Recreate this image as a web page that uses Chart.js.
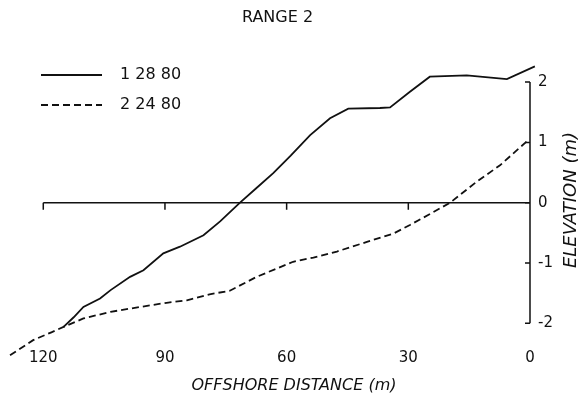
<!DOCTYPE html>
<html>
<head>
<meta charset="utf-8">
<script src="https://cdn.jsdelivr.net/npm/chart.js@4.4.1/dist/chart.umd.min.js"></script>
<style>
    html, body { margin: 0; padding: 0; background: #ffffff; }
    canvas { display: block; }
</style>
</head>
<body>
<canvas id="profile-chart" width="578" height="393"></canvas>
<script>
// profile 1 (1 28 80), offshore distance (m) vs elevation (m)
const profile1Dist = [115, 112.5, 110.1, 106, 103.4, 98.6, 95.3, 90.4, 86.3, 80.5, 76.4, 71.5, 67.5, 63.3, 59, 54.2, 49.3, 44.8, 37, 34.5, 29.6, 24.7, 15.6, 5.7, -1.2];
const profile1Elev = [-2.06, -1.90, -1.73, -1.59, -1.45, -1.23, -1.12, -0.84, -0.73, -0.54, -0.31, 0, 0.24, 0.49, 0.78, 1.12, 1.40, 1.56, 1.57, 1.58, 1.84, 2.09, 2.11, 2.05, 2.26];

// profile 2 (2 24 80)
const profile2Dist = [128.2, 122.5, 118, 115, 110.1, 103.4, 96.2, 89.6, 84.6, 79, 74, 67.4, 58.4, 53.4, 47.6, 40.2, 33.6, 29.6, 25, 19.7, 13.1, 7.4, 0.4];
const profile2Elev = [-2.53, -2.28, -2.15, -2.06, -1.92, -1.81, -1.73, -1.66, -1.62, -1.52, -1.46, -1.23, -0.98, -0.91, -0.81, -0.65, -0.51, -0.37, -0.20, 0, 0.35, 0.62, 1.04];

const seriesLabels = ['1 28 80', '2 24 80'];
const xTickValues = [120, 90, 60, 30, 0];
const yTickValues = [-2, -1, 0, 1, 2];

const FONT = "'DejaVu Sans', 'Liberation Sans', sans-serif";
const INK = '#111111';

const toPoints = (xs, ys) => xs.map((x, i) => ({ x: x, y: ys[i] }));

// zero line, y axis at distance 0, legend and axis titles
const profileDecor = {
    id: 'profileDecor',
    beforeDatasetsDraw(chart) {
        const ctx = chart.ctx;
        const xs = chart.scales.x;
        const ys = chart.scales.y;
        const y0 = ys.getPixelForValue(0);
        const x0 = xs.getPixelForValue(0);

        ctx.save();
        ctx.strokeStyle = INK;
        ctx.lineWidth = 1.5;
        ctx.beginPath();
        ctx.moveTo(xs.getPixelForValue(120), y0);
        ctx.lineTo(x0, y0);
        xTickValues.filter(v => v !== 0).forEach(v => {
            const px = xs.getPixelForValue(v);
            ctx.moveTo(px, y0);
            ctx.lineTo(px, y0 + 7);
        });
        ctx.stroke();

        ctx.beginPath();
        ctx.moveTo(x0, ys.getPixelForValue(2));
        ctx.lineTo(x0, ys.getPixelForValue(-2));
        yTickValues.forEach(v => {
            const py = ys.getPixelForValue(v);
            ctx.moveTo(x0, py);
            ctx.lineTo(x0 - 5, py);
        });
        ctx.stroke();
        ctx.restore();
    },
    afterDraw(chart) {
        const ctx = chart.ctx;
        ctx.save();
        ctx.fillStyle = INK;

        // legend
        chart.data.datasets.forEach((ds, i) => {
            const ly = 75 + i * 30;
            ctx.strokeStyle = ds.borderColor;
            ctx.lineWidth = ds.borderWidth;
            ctx.setLineDash(ds.borderDash || []);
            ctx.beginPath();
            ctx.moveTo(41, ly);
            ctx.lineTo(102, ly);
            ctx.stroke();
            ctx.setLineDash([]);
            ctx.font = '16px ' + FONT;
            ctx.textAlign = 'left';
            ctx.textBaseline = 'middle';
            ctx.fillText(ds.label, 120, ly);
        });

        // axis titles
        ctx.font = 'italic 16px ' + FONT;
        ctx.textAlign = 'center';
        ctx.textBaseline = 'middle';
        ctx.fillText('OFFSHORE DISTANCE (m)', 294, 386);

        ctx.translate(571, 200);
        ctx.rotate(-Math.PI / 2);
        ctx.font = 'italic 18px ' + FONT;
        ctx.fillText('ELEVATION (m)', 0, 0);
        ctx.restore();
    }
};

const ctx = document.getElementById('profile-chart').getContext('2d');
new Chart(ctx, {
    type: 'line',
    data: {
        datasets: [
            {
                label: seriesLabels[0],
                data: toPoints(profile1Dist, profile1Elev),
                borderColor: INK,
                borderWidth: 1.8,
                pointRadius: 0,
                tension: 0,
                fill: false,
                clip: false
            },
            {
                label: seriesLabels[1],
                data: toPoints(profile2Dist, profile2Elev),
                borderColor: INK,
                borderWidth: 1.8,
                borderDash: [7, 4],
                pointRadius: 0,
                tension: 0,
                fill: false,
                clip: false
            }
        ]
    },
    options: {
        responsive: false,
        animation: false,
        layout: { padding: { left: 0, right: 23, top: 0, bottom: 0 } },
        plugins: {
            legend: { display: false },
            tooltip: { enabled: false },
            title: {
                display: true,
                text: 'RANGE 2',
                color: INK,
                font: { family: FONT, size: 16, weight: 'normal', lineHeight: 1.2 },
                padding: { top: 8, bottom: 12.8 }
            }
        },
        scales: {
            x: {
                type: 'linear',
                reverse: true,
                min: -1.233,
                max: 130.67,
                afterBuildTicks: s => { s.ticks = xTickValues.map(v => ({ value: v })); },
                afterFit: s => { s.height = 45; },
                grid: { display: false, drawTicks: false },
                border: { display: false },
                ticks: { color: INK, padding: 1, maxRotation: 0, font: { family: FONT, size: 15 } }
            },
            y: {
                type: 'linear',
                position: 'right',
                min: -2.41,
                max: 2.698,
                afterBuildTicks: s => { s.ticks = yTickValues.map(v => ({ value: v })); },
                afterFit: s => { s.width = 20; },
                grid: { display: false, drawTicks: false },
                border: { display: false },
                ticks: { color: INK, padding: 3, font: { family: FONT, size: 15 } }
            }
        }
    },
    plugins: [profileDecor]
});
</script>
</body>
</html>
